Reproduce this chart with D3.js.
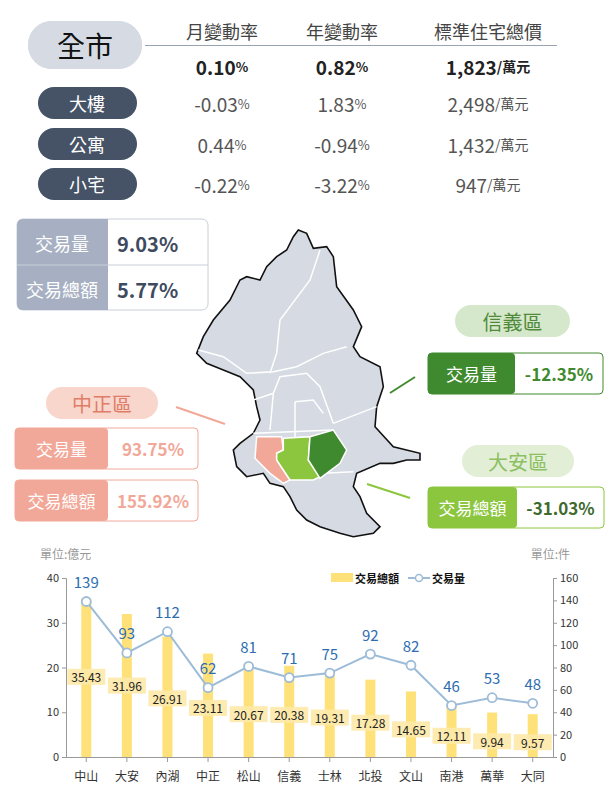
<!DOCTYPE html><html><head><meta charset="utf-8"><script src="https://cdn.jsdelivr.net/npm/d3@7"></script>
<style>body{margin:0;background:#fff}text{font-family:"Noto Sans CJK TC","Noto Sans",sans-serif}</style></head><body><svg id="c" width="612" height="796"></svg>
<script>
const headers=["月變動率","年變動率","標準住宅總價"];
const rowTypes=["大樓","公寓","小宅"];
const cityRow=["0.10%","0.82%","1,823"];
const typeRows=[["-0.03%","1.83%","2,498"],["0.44%","-0.94%","1,432"],["-0.22%","-3.22%","947"]];
const cityStats=[["交易量","9.03%"],["交易總額","5.77%"]];
const districts=["中山","大安","內湖","中正","松山","信義","士林","北投","文山","南港","萬華","大同"];
const amount=[35.43,31.96,26.91,23.11,20.67,20.38,19.31,17.28,14.65,12.11,9.94,9.57];
const volume=[139,93,112,62,81,71,75,92,82,46,53,48];
const leftTicks=[0,10,20,30,40];
const rightTicks=[0,20,40,60,80,100,120,140,160];
// map shapes in local map units
const outline=[[355,30],[380,40],[400,85],[440,80],[460,110],[470,200],[520,270],[545,320],[520,380],[540,410],[600,440],[610,500],[590,560],[585,620],[640,680],[720,700],[720,720],[680,720],[640,730],[600,730],[530,760],[520,800],[540,830],[560,880],[600,920],[580,940],[520,950],[480,940],[420,920],[380,900],[350,870],[330,830],[310,800],[270,790],[250,760],[200,770],[170,740],[160,690],[180,670],[220,640],[240,600],[230,560],[220,510],[180,470],[130,450],[80,430],[50,400],[70,350],[100,300],[150,240],[180,180],[200,170],[240,180],[260,140],[290,110],[320,90],[340,50]];
const zhongzheng=[[230,650],[305,650],[310,690],[290,700],[290,720],[330,780],[310,790],[270,760],[225,715]];
const daan=[[310,655],[390,650],[385,720],[420,770],[400,780],[330,780],[290,720],[290,700],[310,690]];
const xinyi=[[390,650],[460,630],[500,690],[480,730],[420,775],[385,720]];
const borders=[[[55,390],[130,410],[200,460],[280,455],[350,440],[430,400],[500,380]],[[420,90],[390,180],[300,300],[290,400],[270,460]],[[220,540],[280,520],[300,470],[380,460],[420,500],[460,610]],[[280,520],[270,630]],[[345,545],[345,650]],[[345,545],[400,540],[430,580]],[[460,610],[590,560]],[[220,640],[460,630]],[[430,760],[520,755]]];

const svg=d3.select("#c");
const F='"Noto Sans CJK TC",sans-serif';
function pill(x,y,w,h,fill){svg.append("rect").attr("x",x).attr("y",y).attr("width",w).attr("height",h).attr("rx",h/2).attr("fill",fill);}
function txt(x,y,s,size,fill,anchor="middle",weight="normal"){return svg.append("text").attr("x",x).attr("y",y).attr("font-size",size).attr("fill",fill).attr("text-anchor",anchor).attr("font-weight",weight).attr("dominant-baseline","central").text(s);}
// top table
pill(28,21,114,48,"#d5dae3");txt(85,45,"全市",28,"#111");
const colX=[222,342,488];
headers.forEach((h,i)=>txt(colX[i],31,h,18,"#444"));
svg.append("line").attr("x1",145).attr("x2",557).attr("y1",45.5).attr("y2",45.5).attr("stroke","#9aa3b0").attr("stroke-width",1.2);
function valCell(i,y,v,bold){
  const t=svg.append("text").attr("x",colX[i]).attr("y",y).attr("text-anchor","middle").attr("dominant-baseline","central").attr("fill",bold?"#222":"#555").attr("font-size",19).attr("font-weight",bold?"bold":"normal");
  if(i<2){t.append("tspan").text(v.replace("%",""));t.append("tspan").attr("font-size",13).text("%");}
  else{t.append("tspan").text(v);t.append("tspan").attr("font-size",14).attr("font-weight",bold?"bold":"normal").text("/萬元");}
}
cityRow.forEach((v,i)=>valCell(i,66,v,true));
const rowY=[103,144,184];
rowTypes.forEach((r,j)=>{pill(38,87,99,32,"#465266");svg.select("rect:last-of-type");});
svg.selectAll("rect.tp").remove();
svg.selectAll("rect").filter((d,i,n)=>i>0).remove();
pill(28,21,114,48,"#d5dae3");txt(85,45,"全市",28,"#111");
rowTypes.forEach((r,j)=>{pill(38,rowY[j]-16,99,32,"#465266");txt(87,rowY[j],r,18,"#fff");typeRows[j].forEach((v,i)=>valCell(i,rowY[j],v,false));});
// city stats box
const box=svg.append("g");
box.append("rect").attr("x",17).attr("y",219).attr("width",191).attr("height",91).attr("rx",6).attr("fill","#fff").attr("stroke","#c9ced8");
box.append("path").attr("d","M23,219 H108 V310 H23 Q17,310 17,304 V225 Q17,219 23,219Z").attr("fill","#a6b0c2");
box.append("line").attr("x1",17).attr("x2",208).attr("y1",265).attr("y2",265).attr("stroke","#c9ced8");
cityStats.forEach((s,i)=>{const y=243+i*46;txt(62,y,s[0],18,"#fff");txt(117,y,s[1],20,"#3e4a5e","start","bold");});
// map
const mx=d3.scaleLinear().domain([0,3]).range([180,181]);
const my=d3.scaleLinear().domain([0,3]).range([220,221]);
const line=d3.line().x(d=>mx(d[0])).y(d=>my(d[1]));
const area=d3.line().x(d=>mx(d[0])).y(d=>my(d[1])).curve(d3.curveLinearClosed);
svg.append("path").attr("d",area(outline)).attr("fill","#d5dae3").attr("stroke","#111").attr("stroke-width",1.6);
borders.forEach(b=>svg.append("path").attr("d",line(b)).attr("fill","none").attr("stroke","#fff").attr("stroke-width",1.5));
[[zhongzheng,"#f2a898"],[daan,"#8cc63f"],[xinyi,"#3f8a2e"]].forEach(([p,c])=>svg.append("path").attr("d",area(p)).attr("fill",c).attr("stroke","#fff").attr("stroke-width",1.5));
// callouts
function callout(px,py,pw,label,pillFill,pillText,bx,by,bw,lw,k,v,kFill,vColor,lines){
  pill(px,py,pw,32,pillFill);txt(px+pw/2,py+16,label,20,pillText);
  lines.forEach((y,i)=>{
    svg.append("rect").attr("x",bx).attr("y",y).attr("width",bw).attr("height",41).attr("rx",4).attr("fill","#fff").attr("stroke",kFill);
    svg.append("rect").attr("x",bx).attr("y",y).attr("width",lw).attr("height",41).attr("rx",4).attr("fill",kFill);
    txt(bx+lw/2,y+20.5,k[i],17,"#fff");txt(bx+lw+(bw-lw)/2,y+20.5,v[i],17,vColor,"middle","bold");
  });
}
callout(455,305,115,"信義區","#d6e8cb","#4e8a3a",428,353,175,87,["交易量"],["-12.35%"],"#3f8a2e","#3f8a2e",[353]);
callout(462,445,112,"大安區","#e2efd6","#8cc063",428,487,176,89,["交易總額"],["-31.03%"],"#8cc63f","#3f6a2e",[487]);
callout(46,387,112,"中正區","#f8d6cc","#e07c68",15,428,183,93,["交易量","交易總額"],["93.75%","155.92%"],"#f2a898","#f2a898",[428,480]);
svg.append("line").attr("x1",390).attr("y1",393).attr("x2",415).attr("y2",377).attr("stroke","#3f8a2e").attr("stroke-width",2);
svg.append("line").attr("x1",367).attr("y1",484).attr("x2",410).attr("y2",498).attr("stroke","#8cc63f").attr("stroke-width",2);
svg.append("line").attr("x1",176).attr("y1",407).attr("x2",225).attr("y2",424).attr("stroke","#f2a898").attr("stroke-width",2);
// chart
const x=d3.scaleBand().domain(districts).range([66,553]);
const yL=d3.scaleLinear().domain([0,40]).range([757,578]);
const yR=d3.scaleLinear().domain([0,160]).range([757,578]);
const ax=svg.append("g").attr("transform","translate(0,757)").call(d3.axisBottom(x).tickSize(5).tickSizeOuter(0));
ax.selectAll("text").attr("font-size",12).attr("fill","#222").attr("dy","1.3em");
svg.selectAll(".tick line").attr("stroke","#999");
const la=svg.append("g").attr("transform","translate(66,0)").call(d3.axisLeft(yL).tickValues(leftTicks).tickSize(4));
const ra=svg.append("g").attr("transform","translate(553,0)").call(d3.axisRight(yR).tickValues(rightTicks).tickSize(4));
[ax,la,ra].forEach(a=>{a.selectAll("path,line").attr("stroke","#999");a.selectAll("text").attr("font-family",F).attr("font-size",11).attr("fill","#333");});
ax.selectAll("text").attr("font-size",12);
txt(40,553,"單位:億元",12,"#999","start");txt(570,553,"單位:件",12,"#999","end");
svg.selectAll("rect.bar").data(amount).join("rect").attr("x",(d,i)=>x(districts[i])+x.bandwidth()/2-5).attr("width",10).attr("y",d=>yL(d)).attr("height",d=>757-yL(d)).attr("fill","#ffe17a");
const lab=d=>yL(d*0.565-2.1);
svg.selectAll("rect.lb").data(amount).join("rect").attr("x",(d,i)=>x(districts[i])+x.bandwidth()/2-19).attr("width",38).attr("y",d=>lab(d)-8).attr("height",16).attr("fill","#fde9a9").attr("opacity",0.9);
amount.forEach((d,i)=>txt(x(districts[i])+x.bandwidth()/2,lab(d),d.toFixed(2),12,"#222"));
svg.append("path").attr("d",d3.line().x((d,i)=>x(districts[i])+x.bandwidth()/2).y(d=>yR(d))(volume)).attr("fill","none").attr("stroke","#9dbcd8").attr("stroke-width",2);
volume.forEach((d,i)=>{const cx=x(districts[i])+x.bandwidth()/2;svg.append("circle").attr("cx",cx).attr("cy",yR(d)).attr("r",4.5).attr("fill","#fff").attr("stroke","#9dbcd8").attr("stroke-width",1.8);txt(cx,yR(d)-20,d,15,"#2e6db0");});
// legend
svg.append("rect").attr("x",331).attr("y",573).attr("width",22).attr("height",9).attr("fill","#ffe17a");
txt(355,578,"交易總額",11,"#111","start","bold");
svg.append("line").attr("x1",408).attr("x2",430).attr("y1",578).attr("y2",578).attr("stroke","#9dbcd8").attr("stroke-width",2);
svg.append("circle").attr("cx",419).attr("cy",578).attr("r",3.5).attr("fill","#fff").attr("stroke","#9dbcd8").attr("stroke-width",1.5);
txt(432,578,"交易量",11,"#111","start","bold");
</script></body></html>
